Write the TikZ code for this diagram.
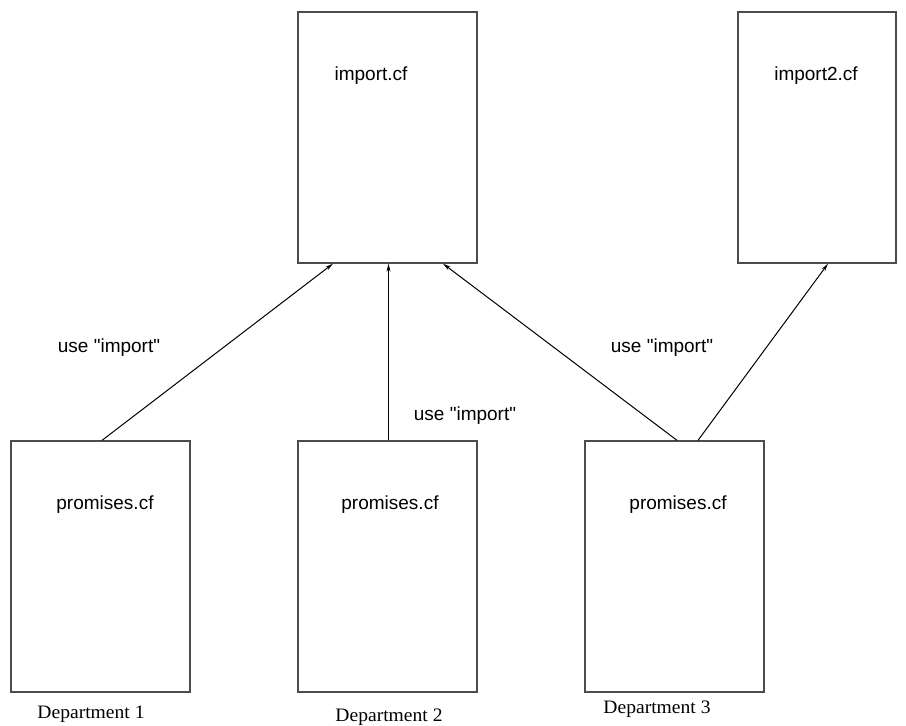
\documentclass[tikz,border=0pt]{standalone}
\usepackage{fontspec}
\setmainfont{Liberation Serif}
\newfontfamily\labelfont{Liberation Sans}
\usetikzlibrary{arrows.meta}
\begin{document}
\begin{tikzpicture}[x=1pt,y=-1pt,
  filebox/.style={draw=black!70,line width=1.3pt,inner sep=0pt,minimum height=251pt,minimum width=179pt},
  ftext/.style={font=\labelfont\fontsize{19}{22}\selectfont,inner sep=0pt},
  dept/.style={font=\fontsize{19}{22}\selectfont,inner sep=0pt,xscale=1.03},
  link/.style={line width=1pt,-{Stealth[length=8pt,width=4pt]}}]
\useasboundingbox (0,0) rectangle (906,726);
\node[filebox] (imp) at (387.5,137.5) {};
\node[filebox,minimum width=158pt] (imp2) at (817,137.5) {};
\node[filebox] (p1) at (100.5,566.5) {};
\node[filebox] (p2) at (387.5,566.5) {};
\node[filebox] (p3) at (674.5,566.5) {};
\node[ftext] (timp) at (371,76) {import.cf};
\node[ftext] (timp2) at (816,76) {import2.cf};
\node[ftext] (tp1) at (105,505) {promises.cf};
\node[ftext] (tp2) at (390,505) {promises.cf};
\node[ftext] (tp3) at (678,505) {promises.cf};
\node[ftext] (u1) at (109,348) {use "import"};
\node[ftext] (u2) at (465,416) {use "import"};
\node[ftext] (u3) at (662,348) {use "import"};
\node[dept] (d1) at (91,714) {Department 1};
\node[dept] (d2) at (389,717) {Department 2};
\node[dept] (d3) at (657,709) {Department 3};
\draw[link] ([xshift=1.5pt]p1.north) -- ([xshift=-54.5pt]imp.south);
\draw[link] ([xshift=1pt]p2.north) -- ([xshift=1pt]imp.south);
\draw[link] ([xshift=2.5pt]p3.north) -- ([xshift=55.5pt]imp.south);
\draw[link] ([xshift=23.5pt]p3.north) -- ([xshift=11pt]imp2.south);
\end{tikzpicture}
\end{document}
